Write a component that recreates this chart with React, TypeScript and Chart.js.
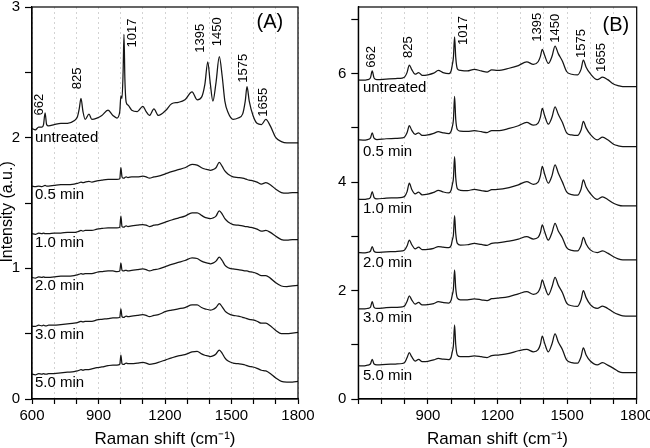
import React, { useEffect, useRef } from 'react';
import { Chart, registerables } from 'chart.js';

Chart.register(...registerables);

// ---------- shared text ----------
const seriesNames = ['untreated', '0.5 min', '1.0 min', '2.0 min', '3.0 min', '5.0 min'];
const peakNames = ['662', '825', '1017', '1395', '1450', '1575', '1655'];
const xTickLabels = [600, 900, 1200, 1500, 1800];
const xTickLabelsB = [900, 1200, 1500, 1800];
const yTickLabelsA = [0, 1, 2, 3];
const yTickLabelsB = [0, 2, 4, 6];

// ---------- panel A ----------
const xA = [
  600, 615, 630, 645, 652, 659, 666, 675, 700, 730,
  760, 790, 805, 813, 821, 830, 840, 857, 870, 893,
  915, 943, 965, 983, 996, 1001, 1006, 1011, 1015, 1019,
  1025, 1033, 1050, 1075, 1100, 1115, 1130, 1150, 1170, 1204,
  1230, 1260, 1290, 1322, 1345, 1365, 1380, 1393, 1404, 1416,
  1430, 1445, 1458, 1470, 1485, 1507, 1530, 1550, 1562, 1570,
  1580, 1597, 1615, 1635, 1655, 1675, 1700, 1725, 1750, 1775,
  1800,
];
const untreatedA = [
  2.07, 2.06, 2.08, 2.08, 2.10, 2.19, 2.10, 2.09, 2.10, 2.11,
  2.11, 2.13, 2.16, 2.22, 2.30, 2.20, 2.14, 2.18, 2.14, 2.15,
  2.17, 2.21, 2.17, 2.15, 2.20, 2.32, 2.30, 2.50, 2.79, 2.45,
  2.27, 2.25, 2.21, 2.20, 2.24, 2.20, 2.17, 2.22, 2.17, 2.21,
  2.26, 2.27, 2.29, 2.35, 2.29, 2.31, 2.41, 2.58, 2.42, 2.28,
  2.42, 2.62, 2.47, 2.28, 2.19, 2.14, 2.15, 2.18, 2.28, 2.39,
  2.28, 2.17, 2.11, 2.10, 2.14, 2.09, 2.00, 1.97, 1.96, 1.96,
  1.96,
];
const min05A = [
  1.63, 1.625, 1.63, 1.625, 1.63, 1.635, 1.63, 1.63, 1.635, 1.64,
  1.64, 1.645, 1.65, 1.655, 1.66, 1.655, 1.66, 1.665, 1.66, 1.67,
  1.675, 1.68, 1.68, 1.68, 1.685, 1.77, 1.70, 1.69, 1.69, 1.695,
  1.70, 1.695, 1.70, 1.70, 1.705, 1.70, 1.69, 1.70, 1.705, 1.725,
  1.74, 1.755, 1.77, 1.795, 1.79, 1.77, 1.76, 1.755, 1.75, 1.755,
  1.77, 1.81, 1.78, 1.745, 1.72, 1.70, 1.695, 1.69, 1.685, 1.68,
  1.675, 1.67, 1.66, 1.645, 1.655, 1.64, 1.605, 1.58, 1.575, 1.58,
  1.58,
];
const min10A = [
  1.265, 1.26, 1.27, 1.265, 1.27, 1.265, 1.265, 1.265, 1.27, 1.27,
  1.275, 1.275, 1.28, 1.285, 1.29, 1.285, 1.29, 1.29, 1.29, 1.30,
  1.305, 1.31, 1.31, 1.31, 1.315, 1.40, 1.32, 1.315, 1.315, 1.32,
  1.325, 1.32, 1.325, 1.33, 1.335, 1.33, 1.32, 1.33, 1.335, 1.355,
  1.37, 1.385, 1.40, 1.425, 1.425, 1.405, 1.39, 1.385, 1.38, 1.385,
  1.40, 1.44, 1.415, 1.38, 1.355, 1.335, 1.33, 1.325, 1.32, 1.32,
  1.315, 1.31, 1.30, 1.285, 1.29, 1.275, 1.245, 1.22, 1.215, 1.22,
  1.22,
];
const min20A = [
  0.93, 0.925, 0.935, 0.93, 0.935, 0.93, 0.93, 0.93, 0.935, 0.94,
  0.94, 0.945, 0.95, 0.955, 0.96, 0.955, 0.96, 0.96, 0.96, 0.97,
  0.975, 0.98, 0.98, 0.975, 0.98, 1.04, 0.985, 0.98, 0.98, 0.985,
  0.985, 0.98, 0.985, 0.99, 0.995, 0.99, 0.98, 0.99, 0.995, 1.015,
  1.03, 1.045, 1.06, 1.08, 1.075, 1.055, 1.045, 1.04, 1.035, 1.04,
  1.055, 1.085, 1.06, 1.025, 1.005, 0.995, 0.99, 0.985, 0.98, 0.98,
  0.975, 0.97, 0.96, 0.945, 0.945, 0.925, 0.89, 0.865, 0.86, 0.865,
  0.87,
];
const min30A = [
  0.557, 0.555, 0.565, 0.56, 0.565, 0.56, 0.56, 0.565, 0.565, 0.57,
  0.575, 0.58, 0.585, 0.59, 0.595, 0.59, 0.595, 0.595, 0.595, 0.605,
  0.61, 0.615, 0.62, 0.62, 0.625, 0.69, 0.63, 0.625, 0.625, 0.63,
  0.635, 0.63, 0.635, 0.64, 0.645, 0.64, 0.63, 0.64, 0.645, 0.67,
  0.68, 0.69, 0.70, 0.72, 0.72, 0.70, 0.69, 0.685, 0.68, 0.685,
  0.70, 0.73, 0.705, 0.675, 0.655, 0.64, 0.635, 0.625, 0.62, 0.615,
  0.61, 0.605, 0.595, 0.58, 0.58, 0.56, 0.525, 0.50, 0.50, 0.505,
  0.51,
];
const min50A = [
  0.19, 0.185, 0.195, 0.19, 0.195, 0.19, 0.19, 0.195, 0.195, 0.20,
  0.205, 0.21, 0.215, 0.22, 0.225, 0.22, 0.225, 0.225, 0.23, 0.24,
  0.245, 0.255, 0.26, 0.26, 0.265, 0.335, 0.27, 0.265, 0.265, 0.27,
  0.275, 0.27, 0.27, 0.275, 0.28, 0.275, 0.265, 0.27, 0.28, 0.30,
  0.315, 0.33, 0.34, 0.36, 0.365, 0.345, 0.335, 0.33, 0.325, 0.33,
  0.345, 0.375, 0.35, 0.315, 0.29, 0.275, 0.27, 0.265, 0.26, 0.255,
  0.25, 0.245, 0.235, 0.22, 0.215, 0.195, 0.16, 0.135, 0.13, 0.13,
  0.135,
];
const seriesLabelYA = [2.0, 1.565, 1.193, 0.863, 0.489, 0.124];
const peakLabelXA = [632, 803, 1052, 1358, 1438, 1556, 1642];
const peakLabelYA = [2.17, 2.37, 2.69, 2.65, 2.70, 2.42, 2.16];

// ---------- panel B ----------
const xB = [
  600, 620, 640, 652, 660, 668, 680, 720, 760, 790,
  800, 810, 820, 830, 845, 860, 875, 900, 925, 945,
  965, 990, 1000, 1005, 1010, 1015, 1020, 1027, 1040, 1070,
  1100, 1130, 1155, 1175, 1200, 1250, 1290, 1326, 1355, 1375,
  1385, 1393, 1403, 1419, 1435, 1448, 1462, 1480, 1498, 1520,
  1545, 1560, 1570, 1582, 1600, 1630, 1653, 1675, 1700, 1720,
  1740, 1770, 1800,
];
const untreatedB = [
  5.885, 5.88, 5.89, 5.92, 6.05, 5.92, 5.89, 5.90, 5.91, 5.92,
  5.94, 6.02, 6.16, 6.08, 5.99, 6.02, 5.97, 5.98, 6.01, 6.06,
  6.02, 6.00, 6.05, 6.16, 6.30, 6.68, 6.30, 6.09, 6.06, 6.05,
  6.08, 6.05, 6.03, 6.07, 6.06, 6.10, 6.15, 6.22, 6.17, 6.22,
  6.32, 6.45, 6.34, 6.19, 6.32, 6.51, 6.37, 6.23, 6.04, 5.99,
  5.98, 6.08, 6.25, 6.12, 6.00, 5.89, 5.935, 5.89, 5.81, 5.78,
  5.76, 5.76, 5.76,
];
const min05B = [
  4.78, 4.775, 4.785, 4.81, 4.91, 4.81, 4.785, 4.80, 4.805, 4.815,
  4.835, 4.91, 5.04, 4.96, 4.88, 4.91, 4.86, 4.87, 4.90, 4.93,
  4.91, 4.895, 4.94, 5.02, 5.15, 5.58, 5.16, 4.97, 4.94, 4.935,
  4.95, 4.93, 4.915, 4.95, 4.95, 4.99, 5.04, 5.10, 5.05, 5.09,
  5.20, 5.36, 5.23, 5.07, 5.20, 5.39, 5.25, 5.10, 4.91, 4.87,
  4.86, 4.96, 5.12, 5.00, 4.88, 4.78, 4.83, 4.78, 4.70, 4.67,
  4.655, 4.655, 4.655,
];
const min10B = [
  3.685, 3.68, 3.69, 3.715, 3.825, 3.715, 3.69, 3.705, 3.71, 3.72,
  3.74, 3.82, 3.98, 3.87, 3.785, 3.815, 3.765, 3.78, 3.81, 3.85,
  3.82, 3.80, 3.85, 3.95, 4.07, 4.47, 4.08, 3.88, 3.85, 3.845,
  3.865, 3.845, 3.83, 3.86, 3.865, 3.90, 3.95, 4.01, 3.96, 4.00,
  4.12, 4.29, 4.15, 3.98, 4.12, 4.32, 4.17, 4.00, 3.82, 3.77,
  3.76, 3.87, 4.04, 3.91, 3.79, 3.68, 3.73, 3.68, 3.61, 3.575,
  3.56, 3.56, 3.56,
];
const min20B = [
  2.70, 2.695, 2.705, 2.725, 2.81, 2.725, 2.705, 2.715, 2.72, 2.73,
  2.75, 2.82, 2.93, 2.85, 2.77, 2.80, 2.755, 2.76, 2.78, 2.81,
  2.80, 2.79, 2.83, 2.93, 3.03, 3.38, 3.05, 2.87, 2.84, 2.845,
  2.87, 2.85, 2.835, 2.87, 2.88, 2.91, 2.95, 2.995, 2.95, 2.98,
  3.07, 3.21, 3.09, 2.93, 3.07, 3.24, 3.10, 2.97, 2.79, 2.74,
  2.73, 2.83, 2.98, 2.86, 2.75, 2.70, 2.73, 2.69, 2.625, 2.585,
  2.565, 2.565, 2.565,
];
const min30B = [
  1.66, 1.66, 1.67, 1.69, 1.795, 1.69, 1.67, 1.685, 1.69, 1.70,
  1.72, 1.80, 1.90, 1.83, 1.75, 1.78, 1.735, 1.74, 1.76, 1.795,
  1.78, 1.77, 1.82, 1.92, 2.03, 2.38, 2.04, 1.86, 1.83, 1.83,
  1.845, 1.83, 1.815, 1.85, 1.86, 1.89, 1.94, 1.98, 1.93, 1.97,
  2.06, 2.195, 2.08, 1.92, 2.07, 2.245, 2.10, 1.96, 1.77, 1.72,
  1.71, 1.83, 2.00, 1.87, 1.74, 1.67, 1.715, 1.67, 1.60, 1.56,
  1.535, 1.53, 1.53,
];
const min50B = [
  0.615, 0.61, 0.625, 0.645, 0.73, 0.645, 0.63, 0.64, 0.645, 0.655,
  0.675, 0.76, 0.855, 0.78, 0.70, 0.73, 0.69, 0.695, 0.72, 0.75,
  0.735, 0.725, 0.77, 0.87, 0.99, 1.365, 1.00, 0.81, 0.78, 0.78,
  0.795, 0.78, 0.765, 0.80, 0.81, 0.84, 0.89, 0.915, 0.87, 0.91,
  1.01, 1.16, 1.03, 0.87, 1.02, 1.20, 1.05, 0.91, 0.72, 0.67,
  0.66, 0.78, 0.945, 0.81, 0.70, 0.63, 0.67, 0.625, 0.565, 0.51,
  0.485, 0.485, 0.485,
];
const seriesLabelYB = [5.73, 4.56, 3.50, 2.51, 1.49, 0.43];
const peakLabelXB = [658, 814, 1051, 1370, 1448, 1560, 1650];
const peakLabelYB = [6.11, 6.29, 6.53, 6.59, 6.57, 6.29, 6.03];

const FONT = '"Liberation Sans", Arial, Helvetica, sans-serif';
const INK = '#000';
const LINE = '#151515';

type PanelSpec = {
  x: number[];
  series: number[][];
  yMax: number;
  yStep: number;
  yLabels: number[];
  xLabels: number[];
  yAxisWidth: number;
  padRight: number;
  yTitle: boolean;
  seriesLabelX: number;
  seriesLabelY: number[];
  peakX: number[];
  peakY: number[];
  tag: string;
  tagX: number;
  tagY: number;
};

function annotations(p: PanelSpec) {
  return {
    id: 'annot',
    afterDatasetsDraw(chart: any) {
      const { ctx, chartArea, scales } = chart;
      const sx = scales.x;
      const sy = scales.y;
      ctx.save();
      ctx.strokeStyle = INK;
      ctx.lineWidth = 1.2;
      ctx.strokeRect(chartArea.left, chartArea.top, chartArea.right - chartArea.left, chartArea.bottom - chartArea.top);
      ctx.fillStyle = INK;
      ctx.font = `15px ${FONT}`;
      ctx.textAlign = 'left';
      ctx.textBaseline = 'middle';
      seriesNames.forEach((name, i) => {
        ctx.fillText(name, sx.getPixelForValue(p.seriesLabelX), sy.getPixelForValue(p.seriesLabelY[i]));
      });
      ctx.font = `13px ${FONT}`;
      peakNames.forEach((name, i) => {
        ctx.save();
        ctx.translate(sx.getPixelForValue(p.peakX[i]), sy.getPixelForValue(p.peakY[i]));
        ctx.rotate(-Math.PI / 2);
        ctx.textAlign = 'left';
        ctx.textBaseline = 'middle';
        ctx.fillText(name, 0, 0);
        ctx.restore();
      });
      ctx.font = `20px ${FONT}`;
      ctx.textAlign = 'center';
      ctx.textBaseline = 'middle';
      ctx.fillText(p.tag, sx.getPixelForValue(p.tagX), sy.getPixelForValue(p.tagY));
      ctx.restore();
    },
  };
}

function buildConfig(p: PanelSpec): any {
  const datasets = p.series.map((ys, i) => ({
    label: seriesNames[i],
    data: p.x.map((xv, j) => ({ x: xv, y: ys[j] })),
    borderColor: LINE,
    borderWidth: 1.25,
    pointRadius: 0,
    cubicInterpolationMode: 'monotone',
    fill: false,
  }));
  return {
    type: 'line',
    data: { datasets },
    options: {
      animation: false,
      responsive: false,
      maintainAspectRatio: false,
      events: [],
      layout: { padding: { left: 0, top: 7, right: p.padRight, bottom: 0 } },
      plugins: { legend: { display: false }, tooltip: { enabled: false } },
      scales: {
        x: {
          type: 'linear',
          min: 600,
          max: 1800,
          afterFit: (s: any) => {
            s.height = 49;
          },
          ticks: {
            stepSize: 100,
            autoSkip: false,
            maxRotation: 0,
            minRotation: 0,
            includeBounds: false,
            color: INK,
            padding: 3,
            font: { family: FONT, size: 15 },
            callback: (v: number) => (p.xLabels.includes(v) ? String(v) : ''),
          },
          grid: {
            drawOnChartArea: true,
            color: '#c8c8c8',
            lineWidth: 0.8,
            tickLength: 5,
            tickColor: INK,
            tickWidth: 1.2,
            tickBorderDash: [],
          },
          border: { display: true, color: INK, width: 1.2, dash: [2, 3] },
          title: {
            display: true,
            text: 'Raman shift (cm\u207B\u00B9)',
            color: INK,
            font: { family: FONT, size: 17, lineHeight: 1 },
            padding: { top: 0, bottom: 0 },
          },
        },
        y: {
          type: 'linear',
          min: 0,
          max: p.yMax,
          afterFit: (s: any) => {
            s.width = p.yAxisWidth;
          },
          ticks: {
            stepSize: p.yStep,
            includeBounds: false,
            autoSkip: false,
            color: INK,
            padding: 5,
            font: { family: FONT, size: 15, lineHeight: 0.2 },
            callback: (v: number) => (p.yLabels.includes(v) ? String(v) : ''),
          },
          grid: { drawOnChartArea: false, tickLength: 7, tickColor: INK, tickWidth: 1.2 },
          border: { display: true, color: INK, width: 1.2 },
          title: {
            display: p.yTitle,
            text: 'Intensity (a.u.)    ',
            color: INK,
            font: { family: FONT, size: 16, lineHeight: 1 },
            padding: { top: 0, bottom: 0 },
          },
        },
      },
    },
    plugins: [annotations(p)],
  };
}

const panelA: PanelSpec = {
  x: xA,
  series: [untreatedA, min05A, min10A, min20A, min30A, min50A],
  yMax: 3,
  yStep: 0.5,
  yLabels: yTickLabelsA,
  xLabels: xTickLabels,
  yAxisWidth: 32,
  padRight: 22,
  yTitle: true,
  seriesLabelX: 613,
  seriesLabelY: seriesLabelYA,
  peakX: peakLabelXA,
  peakY: peakLabelYA,
  tag: '(A)',
  tagX: 1673,
  tagY: 2.88,
};

const panelB: PanelSpec = {
  x: xB,
  series: [untreatedB, min05B, min10B, min20B, min30B, min50B],
  yMax: 7.23,
  yStep: 1,
  yLabels: yTickLabelsB,
  xLabels: xTickLabelsB,
  yAxisWidth: 38.3,
  padRight: 28.3,
  yTitle: false,
  seriesLabelX: 620,
  seriesLabelY: seriesLabelYB,
  peakX: peakLabelXB,
  peakY: peakLabelYB,
  tag: '(B)',
  tagX: 1710,
  tagY: 6.89,
};

function Panel({ spec, left, width }: { spec: PanelSpec; left: number; width: number }) {
  const ref = useRef<HTMLCanvasElement | null>(null);
  useEffect(() => {
    if (!ref.current) return;
    const chart = new Chart(ref.current, buildConfig(spec));
    return () => chart.destroy();
  }, [spec]);
  return (
    <canvas
      ref={ref}
      width={width}
      height={448}
      style={{ position: 'absolute', left, top: 0, width, height: 448 }}
    />
  );
}

export default function App() {
  return (
    <div
      style={{
        position: 'fixed',
        left: 0,
        top: 0,
        width: 650,
        height: 448,
        overflow: 'hidden',
        background: '#fff',
      }}
    >
      <Panel spec={panelA} left={0} width={320} />
      <Panel spec={panelB} left={320} width={345} />
    </div>
  );
}
